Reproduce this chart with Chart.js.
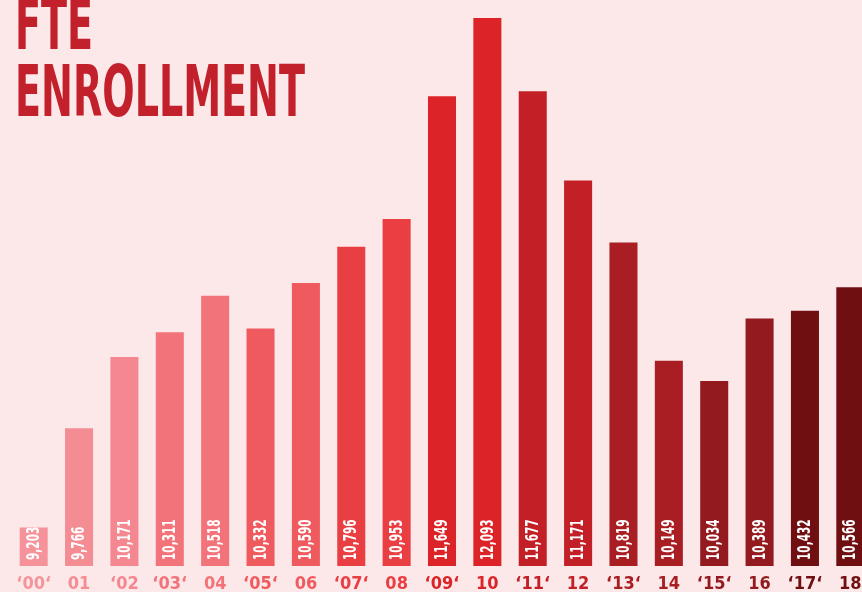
<!DOCTYPE html>
<html>
<head>
<meta charset="utf-8">
<script src="https://cdn.jsdelivr.net/npm/chart.js@4.4.1/dist/chart.umd.min.js"></script>
<style>
  html, body { margin: 0; padding: 0; background: #fde8e9; overflow: hidden; width: 862px; height: 592px; }
  #wrap { position: absolute; left: 0; top: 0; width: 884px; height: 602px; }
  #title { position: absolute; left: 15px; top: -9px; color: #c2202a; font-family: "DejaVu Sans Condensed", "Liberation Sans Narrow", sans-serif; font-weight: bold; font-size: 71px; line-height: 67px; white-space: nowrap; transform-origin: 0 0; z-index: 2; }
</style>
</head>
<body>
<div id="wrap"><canvas id="c"></canvas></div>
<div id="title"><span id="t1">FTE</span><br><span id="t2">ENROLLMENT</span></div>
<script>
const categories = ["\u201800\u2018", "01", "\u201802", "\u201803\u2018", "04", "\u201805\u2018", "06", "\u201807\u2018", "08", "\u201809\u2018", "10", "\u201811\u2018", "12", "\u201813\u2018", "14", "\u201815\u2018", "16", "\u201817\u2018", "18"];
const enrollment = [9203, 9766, 10171, 10311, 10518, 10332, 10590, 10796, 10953, 11649, 12093, 11677, 11171, 10819, 10149, 10034, 10389, 10432, 10566];
const barColors = ["#f5929a", "#f48c94", "#f4878f", "#f2737a", "#f2737a", "#ef5a5e", "#ef5a5e", "#e93e42", "#e93e42", "#dc2428", "#dc2428", "#c21f26", "#c21f26", "#a81e23", "#a81e23", "#931a1e", "#931a1e", "#700f12", "#700f12"];

const FONT = '"DejaVu Sans Condensed", sans-serif';

(function () {
  const t = document.getElementById('title');
  const w = document.getElementById('t2').getBoundingClientRect().width;
  t.style.transform = 'scaleX(' + (290 / w) + ')';
})();

function fmt(v) {
  return String(v).replace(/\B(?=(\d{3})+(?!\d))/g, ',');
}

const valueLabels = {
  id: 'valueLabels',
  afterDraw(chart) {
    const ctx = chart.ctx;
    const xs = chart.scales.x;
    const base = chart.chartArea.bottom;
    ctx.save();
    ctx.fillStyle = '#ffffff';
    ctx.font = 'bold 18px ' + FONT;
    ctx.textAlign = 'left';
    ctx.textBaseline = 'middle';
    chart.data.datasets[0].data.forEach((v, i) => {
      const x = xs.getPixelForValue(i);
      ctx.save();
      ctx.translate(x + 0.5, base - 6);
      ctx.rotate(-Math.PI / 2);
      ctx.scale(0.65, 1);
      ctx.fillText(fmt(v), 0, 0);
      ctx.restore();
    });
    ctx.restore();
  }
};

new Chart(document.getElementById('c'), {
  type: 'bar',
  data: {
    labels: categories,
    datasets: [{
      data: enrollment,
      backgroundColor: barColors,
      borderWidth: 0,
      barPercentage: 0.618,
      categoryPercentage: 1.0
    }]
  },
  options: {
    responsive: true,
    maintainAspectRatio: false,
    animation: false,
    layout: { padding: { left: 11, right: 11, top: 0, bottom: 0 } },
    plugins: { legend: { display: false }, tooltip: { enabled: false } },
    scales: {
      x: {
        grid: { display: false, drawTicks: false },
        border: { display: false },
        ticks: {
          padding: 9,
          autoSkip: false,
          maxRotation: 0,
          font: { family: FONT, size: 18, weight: 'bold', lineHeight: 1.0 },
          color: (c) => barColors[c.index]
        }
      },
      y: {
        display: false,
        min: 8985,
        max: 12195
      }
    }
  },
  plugins: [valueLabels]
});
</script>
</body>
</html>
